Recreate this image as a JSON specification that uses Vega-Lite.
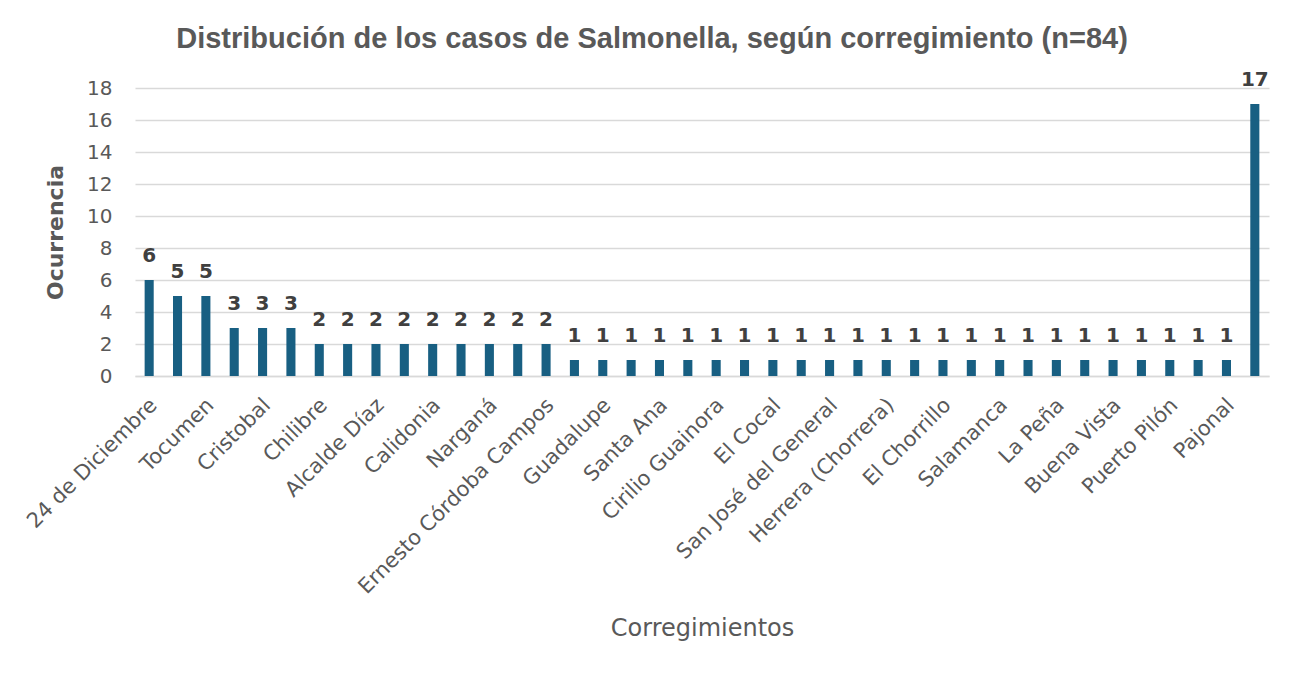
{
  "$schema": "https://vega.github.io/schema/vega-lite/v6.json",
  "autosize": "none",
  "width": 1134,
  "height": 288,
  "padding": {"left": 135, "top": 88, "right": 34, "bottom": 298},
  "background": "white",
  "title": {
    "text": "Distribución de los casos de Salmonella, según corregimiento (n=84)",
    "font": "Liberation Sans",
    "fontSize": 29,
    "fontWeight": "bold",
    "color": "#595959",
    "anchor": "middle",
    "dx": -50,
    "baseline": "alphabetic",
    "offset": -7
  },
  "data": {
    "values": [
      {"corregimiento": "24 de Diciembre", "casos": 6},
      {"corregimiento": "Pedregal", "casos": 5},
      {"corregimiento": "Tocumen", "casos": 5},
      {"corregimiento": "Juan Díaz", "casos": 3},
      {"corregimiento": "Cristobal", "casos": 3},
      {"corregimiento": "Belisario Porras", "casos": 3},
      {"corregimiento": "Chilibre", "casos": 2},
      {"corregimiento": "Las Cumbres", "casos": 2},
      {"corregimiento": "Alcalde Díaz", "casos": 2},
      {"corregimiento": "Ancón", "casos": 2},
      {"corregimiento": "Calidonia", "casos": 2},
      {"corregimiento": "Bethania", "casos": 2},
      {"corregimiento": "Narganá", "casos": 2},
      {"corregimiento": "Pueblo Nuevo", "casos": 2},
      {"corregimiento": "Ernesto Córdoba Campos", "casos": 2},
      {"corregimiento": "Rufina Alfaro", "casos": 1},
      {"corregimiento": "Guadalupe", "casos": 1},
      {"corregimiento": "Omar Torrijos", "casos": 1},
      {"corregimiento": "Santa Ana", "casos": 1},
      {"corregimiento": "Curundú", "casos": 1},
      {"corregimiento": "Cirilio Guainora", "casos": 1},
      {"corregimiento": "San Francisco", "casos": 1},
      {"corregimiento": "El Cocal", "casos": 1},
      {"corregimiento": "Barrio Norte", "casos": 1},
      {"corregimiento": "San José del General", "casos": 1},
      {"corregimiento": "Parque Lefevre", "casos": 1},
      {"corregimiento": "Herrera (Chorrera)", "casos": 1},
      {"corregimiento": "Arraiján", "casos": 1},
      {"corregimiento": "El Chorrillo", "casos": 1},
      {"corregimiento": "Barrio Balboa", "casos": 1},
      {"corregimiento": "Salamanca", "casos": 1},
      {"corregimiento": "Vista Alegre", "casos": 1},
      {"corregimiento": "La Peña", "casos": 1},
      {"corregimiento": "Las Mañanitas", "casos": 1},
      {"corregimiento": "Buena Vista", "casos": 1},
      {"corregimiento": "Amelia Denis de Icaza", "casos": 1},
      {"corregimiento": "Puerto Pilón", "casos": 1},
      {"corregimiento": "Mateo Iturralde", "casos": 1},
      {"corregimiento": "Pajonal", "casos": 1},
      {"corregimiento": "Las Mañanitas Norte", "casos": 17}
    ]
  },
  "encoding": {
    "x": {
      "field": "corregimiento",
      "type": "nominal",
      "sort": null,
      "scale": {"paddingInner": 0.68, "paddingOuter": 0.34},
      "axis": {
        "title": "Corregimientos",
        "titleFont": "DejaVu Sans",
        "titleFontSize": 24,
        "titleFontWeight": "normal",
        "titleColor": "#595959",
        "titleY": 259,
        "titleBaseline": "alphabetic",
        "values": ["24 de Diciembre", "Tocumen", "Cristobal", "Chilibre", "Alcalde Díaz", "Calidonia", "Narganá", "Ernesto Córdoba Campos", "Guadalupe", "Santa Ana", "Cirilio Guainora", "El Cocal", "San José del General", "Herrera (Chorrera)", "El Chorrillo", "Salamanca", "La Peña", "Buena Vista", "Puerto Pilón", "Pajonal"],
        "labelAngle": -45,
        "labelFont": "DejaVu Sans",
        "labelFontSize": 21,
        "labelColor": "#595959",
        "labelPadding": 18,
        "labelOffset": -3,
        "labelOverlap": false,
        "labelLimit": 400,
        "ticks": false,
        "domainColor": "#d9d9d9",
        "domainWidth": 1.5
      }
    },
    "y": {
      "field": "casos",
      "type": "quantitative",
      "scale": {"domain": [0, 18]},
      "axis": {
        "title": "Ocurrencia",
        "titleFont": "DejaVu Sans",
        "titleFontSize": 22,
        "titleFontWeight": "bold",
        "titleColor": "#595959",
        "titleX": -73,
        "titleY": 144,
        "titleBaseline": "alphabetic",
        "titleAngle": -90,
        "values": [0, 2, 4, 6, 8, 10, 12, 14, 16, 18],
        "labelFont": "DejaVu Sans",
        "labelFontSize": 20,
        "labelColor": "#595959",
        "labelPadding": 23,
        "ticks": false,
        "domain": false,
        "gridColor": "#d9d9d9",
        "gridWidth": 1.5
      }
    }
  },
  "layer": [
    {"mark": {"type": "bar", "color": "#185f82"}},
    {
      "mark": {"type": "text", "font": "DejaVu Sans", "fontSize": 20, "fontWeight": "bold", "color": "#404040", "baseline": "alphabetic", "dy": -18},
      "encoding": {"text": {"field": "casos", "type": "quantitative"}}
    }
  ],
  "config": {"view": {"stroke": null}}
}
